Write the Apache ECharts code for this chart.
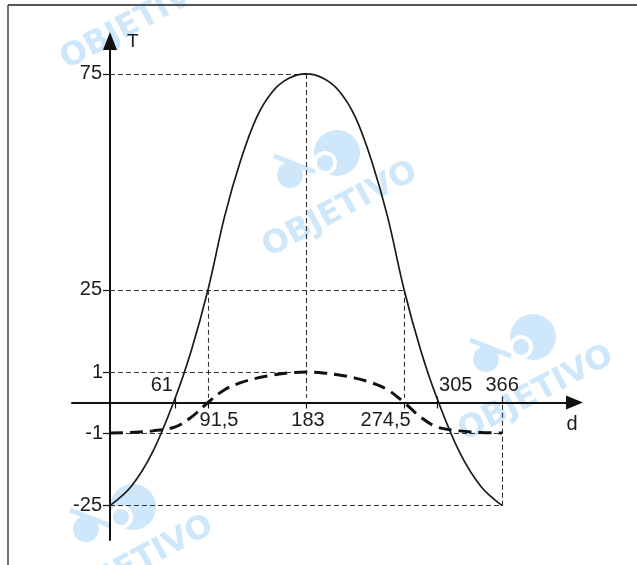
<!DOCTYPE html>
<html><head><meta charset="utf-8">
<script src="https://cdn.jsdelivr.net/npm/echarts@6/dist/echarts.min.js"></script>
<style>html,body{margin:0;padding:0;background:#fff}#c{width:637px;height:565px}</style>
</head><body><div id="c"></div>
<script>
// ---- data ----
const solidDays = [0, 20, 40, 61, 76, 91.5, 107, 122, 137, 152, 167, 183, 199, 214, 229, 244, 259, 274.5, 290, 305, 326, 346, 366];
const solidT    = [-25, -20.5, -12.5, 0, 11, 25, 42, 55, 65, 71, 74, 75, 74, 71, 65, 55, 42, 25, 11, 0, -12.5, -20.5, -25];
const dashedDays = [0, 20, 40, 61, 76, 91.5, 107, 122, 137, 152, 167, 183, 199, 214, 229, 244, 259, 274.5, 290, 305, 326, 346, 366];
const dashedT    = [-1, -0.98, -0.93, -0.8, -0.48, 0, 0.42, 0.65, 0.8, 0.9, 0.97, 1, 0.97, 0.9, 0.8, 0.65, 0.42, 0, -0.48, -0.8, -0.93, -0.98, -1];
const xTicksBelow  = [91.5, 183, 274.5];
const xLabelsBelow = ['91,5', '183', '274,5'];
const xTicksAbove  = [61, 305, 366];
const xLabelsAbove = ['61', '305', '366'];
const yTicksSolid  = [75, 25, -25];
const yTicksDashed = [1, -1];
// key points used for the dashed guide lines
const solidPeak = [183, 75];
const solidMid  = [[91.5, 25], [274.5, 25]];
const solidEnd  = [366, -25];
const dashedPeak = [183, 1];
const dashedEnd  = [366, -1];

const FONT = 'Liberation Sans, Arial, sans-serif';
const TXT = '#1e1b1c';
const guideStyle = {type: [5, 3], width: 1.1, color: '#333'};

function richFor(labels, pads) {
  const r = {};
  labels.forEach((l, i) => { r['k' + i] = {fontSize: 20, fontFamily: FONT, color: TXT, padding: pads[i]}; });
  return r;
}

const WM = '#cfe7fa';
function watermark(cx, cy) {
  return {
    type: 'group', x: cx, y: cy, z: -10, silent: true,
    children: [
      {type: 'circle', shape: {cx: -3, cy: -57, r: 23}, style: {fill: WM}},
      {type: 'circle', shape: {cx: -15, cy: -47, r: 12}, style: {fill: '#fff'}},
      {type: 'circle', shape: {cx: -15, cy: -47, r: 8}, style: {fill: WM}},
      {type: 'circle', shape: {cx: -50, cy: -35, r: 13}, style: {fill: WM}},
      {type: 'line', shape: {x1: -66, y1: -54, x2: -25, y2: -38}, style: {stroke: WM, lineWidth: 5}},
      {type: 'text', rotation: 28 * Math.PI / 180,
       style: {text: 'OBJETIVO', x: 0, y: 0, align: 'center', verticalAlign: 'middle',
               font: 'bold 32px "DejaVu Sans", sans-serif', fill: WM}}
    ]
  };
}

const chart = echarts.init(document.getElementById('c'), null, {renderer: 'canvas'});
chart.setOption({
  animation: false,
  backgroundColor: '#fff',
  grid: {left: 72, right: 62.5, top: 41, bottom: 25, containLabel: false, outerBoundsMode: 'none'},
  graphic: [
    watermark(138, 22), watermark(340, 210), watermark(536, 394), watermark(136, 564),
    {type: 'line', shape: {x1: 8, y1: 5, x2: 637, y2: 5}, style: {stroke: '#555', lineWidth: 2}, silent: true},
    {type: 'line', shape: {x1: 8, y1: 5, x2: 8, y2: 565}, style: {stroke: '#444', lineWidth: 1.5}, silent: true}
  ],
  xAxis: [
    {
      type: 'value', min: -35.4, max: 433.5, position: 'bottom', offset: -137.5,
      name: 'd', nameLocation: 'end', nameGap: -2.5,
      nameTextStyle: {fontSize: 20, fontFamily: FONT, color: TXT, align: 'center', verticalAlign: 'top', padding: [12, 0, 0, 0]},
      axisLine: {show: true, onZero: false, symbol: ['none', 'triangle'], symbolSize: [14, 17],
                 lineStyle: {color: '#111', width: 2}},
      axisTick: {show: true, customValues: [61, 91.5, 183, 274.5, 305], length: 6, lineStyle: {color: '#111', width: 1.2}},
      axisLabel: {show: true, customValues: xTicksBelow, margin: 8, fontSize: 20, fontFamily: FONT, color: TXT,
                  formatter: v => { const i = xTicksBelow.indexOf(v); return '{k' + i + '|' + xLabelsBelow[i] + '}'; },
                  rich: richFor(xLabelsBelow, [[0, 0, 0, 22], [0, 0, 0, 4], [0, 37, 0, 0]])},
      splitLine: {show: false}
    },
    {
      type: 'value', min: -35.4, max: 433.5, position: 'top', offset: -361.5,
      axisLine: {show: false, onZero: false},
      axisTick: {show: true, customValues: [61, 305, 366], length: 6, lineStyle: {color: '#111', width: 1.2}},
      axisLabel: {show: true, customValues: xTicksAbove, margin: 7, fontSize: 20, fontFamily: FONT, color: TXT,
                  formatter: v => { const i = xTicksAbove.indexOf(v); return '{k' + i + '|' + xLabelsAbove[i] + '}'; },
                  rich: richFor(xLabelsAbove, [[0, 27, 0, 0], [0, 0, 0, 38], [0, 0, 0, 0]])},
      splitLine: {show: false}
    }
  ],
  yAxis: [
    {
      type: 'value', min: -32.96, max: 82.63, position: 'left', offset: -38,
      name: 'T', nameLocation: 'end', nameGap: -1,
      nameTextStyle: {fontSize: 19, fontFamily: FONT, color: TXT, align: 'left', verticalAlign: 'middle', padding: [0, 0, 0, 17]},
      axisLine: {show: true, onZero: false, symbol: ['none', 'triangle'], symbolSize: [14, 18],
                 lineStyle: {color: '#111', width: 2}},
      axisTick: {show: true, customValues: yTicksSolid, length: 7, lineStyle: {color: '#111', width: 1.2}},
      axisLabel: {show: true, customValues: yTicksSolid, margin: 8, fontSize: 20, fontFamily: FONT, color: TXT},
      splitLine: {show: false}
    },
    {
      type: 'value', min: -4.508, max: 11.852, position: 'left', offset: -38,
      axisLine: {show: false, onZero: false},
      axisTick: {show: true, customValues: yTicksDashed, length: 7, lineStyle: {color: '#111', width: 1.2}},
      axisLabel: {show: true, customValues: yTicksDashed, margin: 7, fontSize: 20, fontFamily: FONT, color: TXT},
      splitLine: {show: false}
    }
  ],
  series: [
    {
      type: 'line', xAxisIndex: 0, yAxisIndex: 0, smooth: 0.35, showSymbol: false, silent: true, z: 3,
      data: solidDays.map((d, i) => [d, solidT[i]]),
      lineStyle: {color: '#1a1a1a', width: 1.7},
      markLine: {
        silent: true, symbol: ['none', 'none'], label: {show: false}, lineStyle: guideStyle, z: 1,
        data: [
          [{coord: [0, solidPeak[1]]}, {coord: solidPeak}],
          [{coord: solidPeak}, {coord: [solidPeak[0], 0]}],
          [{coord: [0, solidMid[1][1]]}, {coord: solidMid[1]}],
          [{coord: solidMid[0]}, {coord: [solidMid[0][0], 0]}],
          [{coord: solidMid[1]}, {coord: [solidMid[1][0], 0]}],
          [{coord: [0, solidEnd[1]]}, {coord: solidEnd}],
          [{coord: solidEnd}, {coord: [solidEnd[0], 0]}]
        ]
      }
    },
    {
      type: 'line', xAxisIndex: 0, yAxisIndex: 1, smooth: 0.35, showSymbol: false, silent: true, z: 3,
      data: dashedDays.map((d, i) => [d, dashedT[i]]),
      lineStyle: {color: '#111', width: 3, type: [13, 7]},
      markLine: {
        silent: true, symbol: ['none', 'none'], label: {show: false}, lineStyle: guideStyle, z: 1,
        data: [
          [{coord: [0, dashedPeak[1]]}, {coord: dashedPeak}],
          [{coord: [0, dashedEnd[1]]}, {coord: dashedEnd}]
        ]
      }
    }
  ]
});
</script>
</body></html>
